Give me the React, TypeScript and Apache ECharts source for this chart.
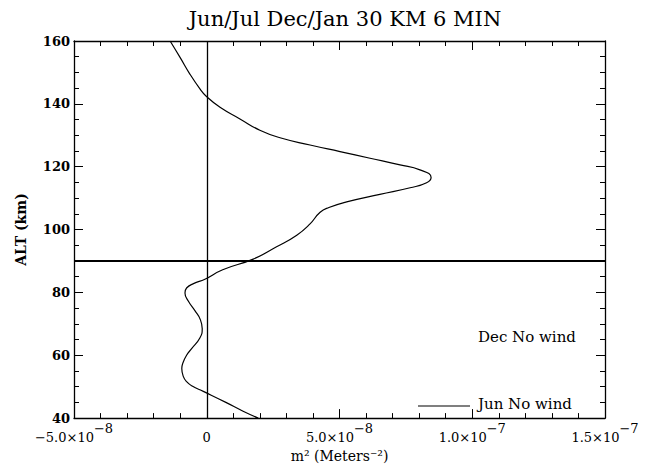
import React, { useEffect, useRef } from "react";
import * as echarts from "echarts";

// Altitude (km) along the profile, top to bottom
const altitudes = [160, 154.7, 149.4, 144.7, 142.4, 138.9, 135.2, 131.6, 129.2, 126.9, 124.8, 122.7, 120.6, 119, 116.6, 114.9, 113.3, 111.2, 108.8, 107, 105.5, 101.8, 98.2, 94.5, 90.6, 87.2, 84.2, 82.8, 81.4, 79.8, 77.2, 74.1, 71.5, 68.4, 65.5, 62.1, 60, 57.5, 55.8, 53.2, 51.6, 50.2, 48.5, 45, 42.2, 40];
// m^2 values in units of 1e-8 Meters^-2
const m2 = [-1.38, -1.0, -0.63, -0.25, -0.02, 0.5, 1.25, 2.0, 2.76, 3.89, 5.02, 6.15, 7.28, 8.03, 8.45, 8.28, 7.66, 6.52, 5.27, 4.6, 4.27, 3.89, 3.39, 2.63, 1.75, 0.6, -0.07, -0.5, -0.76, -0.82, -0.69, -0.44, -0.25, -0.17, -0.26, -0.57, -0.76, -0.9, -0.94, -0.88, -0.76, -0.55, -0.13, 0.72, 1.37, 1.94];

const xTickLabels: Record<string, [string, string]> = {
  "-5": ["−5.0×10", "−8"],
  "0": ["0", ""],
  "5": ["5.0×10", "−8"],
  "10": ["1.0×10", "−7"],
  "15": ["1.5×10", "−7"],
};
const yTicks = [40, 60, 80, 100, 120, 140, 160];

const title = "Jun/Jul Dec/Jan 30 KM 6 MIN";
const xName = "m² (Meters⁻²)";
const yName = "ALT (km)";
const legendJun = "Jun No wind";
const legendDec = "Dec No wind";

const FONT = "DejaVu Serif";

export default function App() {
  const ref = useRef<HTMLDivElement>(null);
  useEffect(() => {
    if (!ref.current) return;
    const chart = echarts.init(ref.current, undefined, { renderer: "svg" });
    const data = altitudes.map((a, i) => [m2[i], a]);
    const axisLine = { show: true, onZero: false, lineStyle: { color: "#000", width: 1.3 } };
    const xCommon = {
      type: "value" as const,
      min: -5,
      max: 15,
      interval: 5,
      axisLine,
      axisTick: { show: true, inside: true, length: 9, lineStyle: { color: "#000" } },
      minorTick: { show: true, splitNumber: 5, length: 5, lineStyle: { color: "#000" } },
      splitLine: { show: false },
      minorSplitLine: { show: false },
    };
    const yCommon = {
      type: "value" as const,
      min: 40,
      max: 160,
      interval: 20,
      axisLine,
      axisTick: { show: true, inside: true, length: 9, lineStyle: { color: "#000" } },
      minorTick: { show: true, splitNumber: 4, length: 5, lineStyle: { color: "#000" } },
      splitLine: { show: false },
      minorSplitLine: { show: false },
    };
    chart.setOption({
      animation: false,
      backgroundColor: "#fff",
      title: {
        text: title,
        left: 340,
        top: 3,
        textAlign: "center",
        textStyle: { fontFamily: FONT, fontWeight: "normal", fontSize: 21, color: "#000" },
      },
      grid: { left: 74, right: 45, top: 41, bottom: 44 },
      xAxis: [
        {
          ...xCommon,
          position: "bottom",
          name: xName,
          nameLocation: "middle",
          nameGap: 26,
          nameTextStyle: { fontFamily: FONT, fontSize: 14, color: "#000" },
          axisLabel: {
            margin: 4,
            formatter: (v: number) => {
              const t = xTickLabels[String(v)];
              if (!t) return "";
              return t[1] ? `{b|${t[0]}}{s|${t[1]}}` : `{b|${t[0]}}`;
            },
            rich: {
              b: { fontFamily: FONT, fontSize: 13, color: "#000", verticalAlign: "bottom", lineHeight: 22 },
              s: { fontFamily: FONT, fontSize: 13, color: "#000", verticalAlign: "top", lineHeight: 22 },
            },
          },
        },
        {
          ...xCommon,
          position: "top",
          axisLabel: { show: false },
        },
      ],
      yAxis: [
        {
          ...yCommon,
          position: "left",
          name: yName,
          nameLocation: "middle",
          nameGap: 46,
          nameTextStyle: { fontFamily: FONT, fontSize: 14, fontWeight: "bold", color: "#000" },
          axisLabel: {
            margin: 4,
            fontFamily: FONT,
            fontSize: 13,
            fontWeight: "bold",
            color: "#000",
            formatter: (v: number) => (yTicks.includes(v) ? String(v) : ""),
          },
        },
        {
          ...yCommon,
          position: "right",
          axisLabel: { show: false },
        },
      ],
      series: [
        {
          name: legendJun,
          type: "line",
          data,
          smooth: 0.5,
          showSymbol: false,
          lineStyle: { color: "#000", width: 1.2 },
          markLine: {
            silent: true,
            symbol: "none",
            label: { show: false },
            data: [
              { xAxis: 0, lineStyle: { color: "#000", width: 1.3, type: "solid" } },
              { yAxis: 90, lineStyle: { color: "#000", width: 2, type: "solid" } },
            ],
          },
        },
      ],
      graphic: [
        {
          type: "text",
          left: 478,
          top: 329,
          style: { text: legendDec, fontFamily: FONT, fontSize: 15, fill: "#000" },
        },
        {
          type: "line",
          shape: { x1: 418, y1: 406, x2: 470, y2: 406 },
          style: { stroke: "#000", lineWidth: 1.2 },
        },
        {
          type: "text",
          left: 478,
          top: 396,
          style: { text: legendJun, fontFamily: FONT, fontSize: 15, fill: "#000" },
        },
      ],
    });
    return () => chart.dispose();
  }, []);
  return (
    <div
      ref={ref}
      style={{ position: "absolute", left: 0, top: 0, width: 650, height: 468 }}
    />
  );
}
